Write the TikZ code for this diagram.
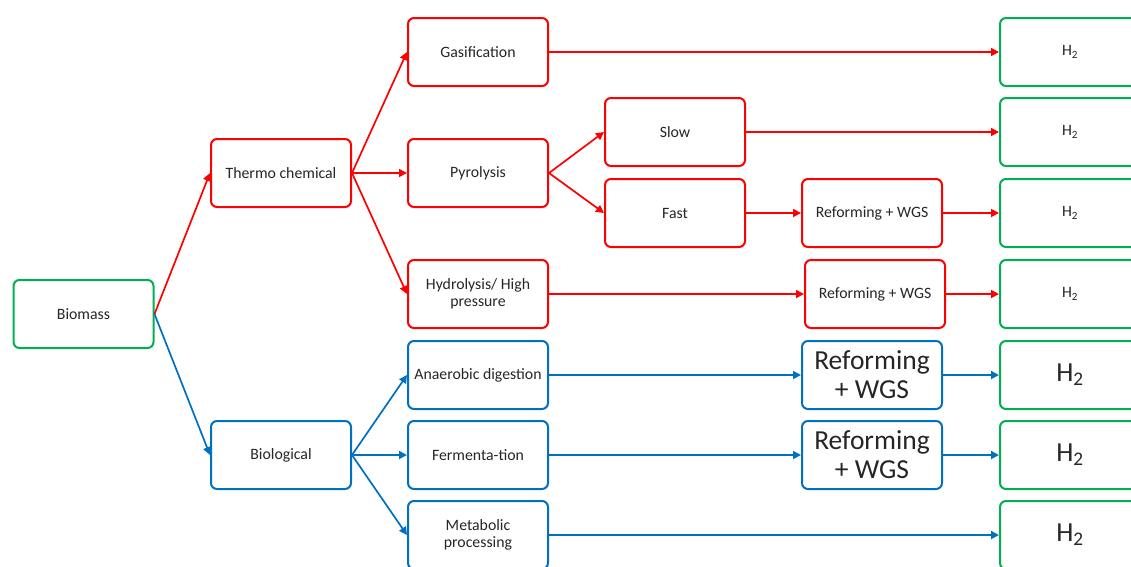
\documentclass[tikz,border=0pt]{standalone}
\usepackage{fontspec}
\setmainfont{Carlito}
\usetikzlibrary{arrows.meta, positioning}
\definecolor{boxred}{RGB}{255,0,0}
\definecolor{boxblue}{RGB}{0,112,192}
\definecolor{boxgreen}{RGB}{0,176,80}

\begin{document}
\begin{tikzpicture}[x=1pt, y=-1pt, font=\fontsize{15.8}{17}\selectfont, text=black!85,
    box/.style={draw, line width=2pt, rounded corners=6pt, align=center, minimum width=140pt, minimum height=68pt, fill=white},
    redbox/.style={box, draw=boxred},
    bluebox/.style={box, draw=boxblue},
    greenbox/.style={box, draw=boxgreen},
    bigtext/.style={font=\fontsize{27.5}{29}\selectfont},
    redarrow/.style={-{Triangle[length=8pt,width=8pt]}, line width=1.7pt, boxred},
    bluearrow/.style={-{Triangle[length=8pt,width=8pt]}, line width=1.7pt, boxblue}
]
  \useasboundingbox (0,0) rectangle (1131,566);

  \node[greenbox] (biomass) at (83.5,314) {Biomass};
  \node[redbox] (thermo) at (281,173) {Thermo chemical};
  \node[bluebox] (bio) at (281,455) {Biological};

  % thermo chemical branch
  \node[redbox] (gasif) at (478,52) {Gasification};
  \node[redbox] (pyro) at (478,173) {Pyrolysis};
  \node[redbox] (hydro) at (478,294) {Hydrolysis/ High\\pressure};
  \node[redbox] (slow) at (675,132) {Slow};
  \node[redbox] (fast) at (675,213) {Fast};
  \node[redbox] (refa) at (872,213) {Reforming + WGS};
  \node[redbox] (refb) at (875,294) {Reforming + WGS};

  % biological branch
  \node[bluebox] (anaer) at (478,375) {Anaerobic digestion};
  \node[bluebox] (ferm) at (478,455) {Fermenta-tion};
  \node[bluebox] (metab) at (478,535) {Metabolic\\processing};
  \node[bluebox, bigtext] (refc) at (872,375) {Reforming\\+ WGS};
  \node[bluebox, bigtext] (refd) at (872,455) {Reforming\\+ WGS};

  % products
  \node[greenbox] (hgas) at (1070,52) {H\textsubscript{2}};
  \node[greenbox] (hslow) at (1070,132) {H\textsubscript{2}};
  \node[greenbox] (hfast) at (1070,213) {H\textsubscript{2}};
  \node[greenbox] (hhydro) at (1070,294) {H\textsubscript{2}};
  \node[greenbox, bigtext] (hanaer) at (1070,375) {H\textsubscript{2}};
  \node[greenbox, bigtext] (hferm) at (1070,455) {H\textsubscript{2}};
  \node[greenbox, bigtext] (hmetab) at (1070,535) {H\textsubscript{2}};

  \draw[redarrow] (biomass.east) -- (thermo.west);
  \draw[bluearrow] (biomass.east) -- (bio.west);

  \draw[redarrow] (thermo.east) -- (gasif.west);
  \draw[redarrow] (thermo.east) -- (pyro.west);
  \draw[redarrow] (thermo.east) -- (hydro.west);
  \draw[redarrow] (pyro.east) -- (slow.west);
  \draw[redarrow] (pyro.east) -- (fast.west);
  \draw[redarrow] (gasif) -- (hgas);
  \draw[redarrow] (slow) -- (hslow);
  \draw[redarrow] (fast) -- (refa);
  \draw[redarrow] (refa) -- (hfast);
  \draw[redarrow] (hydro) -- (refb);
  \draw[redarrow] (refb) -- (hhydro);

  \draw[bluearrow] (bio.east) -- (anaer.west);
  \draw[bluearrow] (bio.east) -- (ferm.west);
  \draw[bluearrow] (bio.east) -- (metab.west);
  \draw[bluearrow] (anaer) -- (refc);
  \draw[bluearrow] (refc) -- (hanaer);
  \draw[bluearrow] (ferm) -- (refd);
  \draw[bluearrow] (refd) -- (hferm);
  \draw[bluearrow] (metab) -- (hmetab);
\end{tikzpicture}
\end{document}
